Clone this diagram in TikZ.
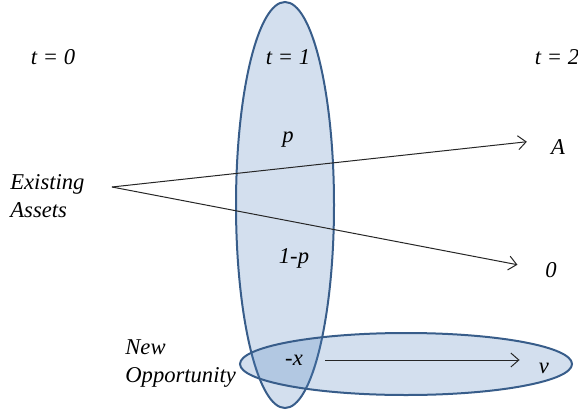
\documentclass[tikz,border=0pt]{standalone}
\usepackage{fontspec}
\setmainfont{Liberation Serif}
\usetikzlibrary{arrows.meta,shapes.geometric}
\definecolor{zonefill}{HTML}{4F81BD}
\definecolor{zoneline}{HTML}{385D8A}

\begin{document}
\begin{tikzpicture}[
    x=0.5pt, y=-0.5pt,
    every node/.style={font=\fontsize{11.3}{14}\selectfont\itshape, inner sep=0pt},
    lbl/.style={align=left},
    zone/.style={ellipse, draw=zoneline, line width=1pt, fill=zonefill,
                 fill opacity=0.25, inner sep=0pt},
    arr/.style={-{Straight Barb[length=4pt,width=7pt]}, line width=0.5pt, draw=black!85}
  ]
  \useasboundingbox (0,0) rectangle (578,412);
  % the two zones
  \node[zone, minimum width=49pt, minimum height=203pt] (dateone) at (285,205) {};
  \node[zone, minimum width=166pt, minimum height=31pt] (newzone) at (406,364) {};

  % time labels
  \node (tzero) at (53,57) {t = 0};
  \node (tone) at (288,57) {t = 1};
  \node (ttwo) at (557,57) {t = 2};

  \node[lbl, anchor=west] (assets) at (10,196) {Existing\\Assets};
  \node (prob) at (288,140) {p};
  \node (probc) at (294,258) {1-p};
  \node (payA) at (558,147) {A};
  \node (payzero) at (551,270) {0};

  \node[lbl, anchor=west] (newopp) at (125,364) {New\\Opportunity};
  \node (cost) at (294,360) {-x};
  \node (value) at (544,368) {v};

  \coordinate (fork) at (112,187);
  \draw[arr, shorten >=12pt] (fork) -- (payA.north west);
  \draw[arr, shorten >=14pt] (fork) -- (payzero.west);
  \draw[arr, shorten <=11pt, shorten >=9.5pt] (cost) -- (cost -| value.west);
\end{tikzpicture}
\end{document}
